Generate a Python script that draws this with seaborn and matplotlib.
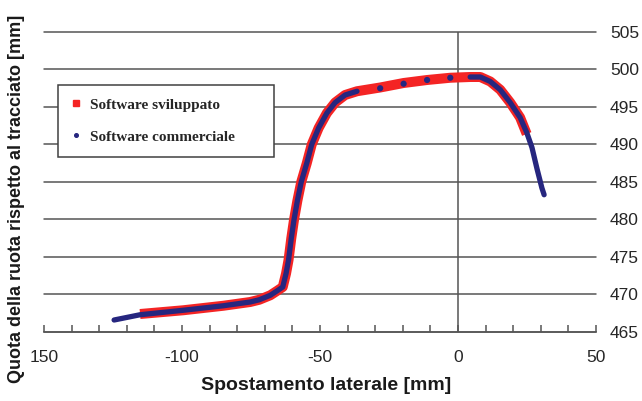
import numpy as np
import pandas as pd
import matplotlib
matplotlib.use("Agg")
import matplotlib.pyplot as plt
from matplotlib.lines import Line2D
import seaborn as sns

# ---- data ----
# "Software sviluppato" (red)
dev_x = [-115.2, -99.5, -85.0, -75.3, -72.0, -68.0, -65.5, -63.5, -62.3, -61.4,
         -60.4, -59.4, -58.2, -56.8, -54.8, -53.0, -50.5, -47.5, -44.5, -40.9,
         -36.6, -28.2, -19.7, -11.2, -2.8, 4.4, 8.1, 11.7, 15.3, 18.9,
         22.5, 24.9]
dev_y = [467.4, 467.9, 468.5, 469.0, 469.3, 469.9, 470.5, 471.0, 472.8, 474.6,
         477.5, 480.0, 482.5, 485.0, 487.5, 490.0, 492.2, 494.2, 495.6, 496.6,
         497.1, 497.6, 498.2, 498.6, 498.9, 499.0, 499.0, 498.4, 497.3, 495.6,
         493.6, 491.4]

# "Software commerciale" (blue): dense left part, sparse middle points, dense right part
comm_left_x = [-124.6, -115.2, -99.5, -85.0, -75.3, -72.0, -68.0, -65.5, -63.5,
               -62.3, -61.4, -60.4, -59.4, -58.2, -56.8, -54.8, -53.0, -50.5,
               -47.5, -44.5, -40.9, -36.6]
comm_left_y = [466.6, 467.3, 467.9, 468.5, 469.0, 469.3, 469.9, 470.5, 471.0,
               472.8, 474.6, 477.5, 480.0, 482.5, 485.0, 487.5, 490.0, 492.2,
               494.2, 495.6, 496.6, 497.1]
comm_mid_x = [-28.2, -19.7, -11.2, -2.8]
comm_mid_y = [497.5, 498.1, 498.6, 498.9]
comm_right_x = [4.4, 8.1, 11.7, 15.3, 18.9, 22.5, 24.9, 26.8, 28.6, 30.4, 31.2]
comm_right_y = [499.0, 499.0, 498.4, 497.3, 495.6, 493.6, 491.6, 489.6, 486.8,
                484.2, 483.3]

x_ticks = [-150, -100, -50, 0, 50]
x_ticklabels = ["150", "-100", "-50", "0", "50"]
y_ticks = [465, 470, 475, 480, 485, 490, 495, 500, 505]
labels = ["Software sviluppato", "Software commerciale"]

RED = "#F42424"
BLUE = "#26267F"
GRID = "#555555"

sns.set_style("white")
plt.rcParams["font.family"] = ["Liberation Sans", "DejaVu Sans"]

fig = plt.figure(figsize=(6.42, 4.01), dpi=100)
ax = fig.add_axes([44 / 642, 1 - 332 / 401, 552 / 642, 300 / 401])

dev = pd.DataFrame({"x": dev_x, "y": dev_y})
left = pd.DataFrame({"x": comm_left_x, "y": comm_left_y})
mid = pd.DataFrame({"x": comm_mid_x, "y": comm_mid_y})
right = pd.DataFrame({"x": comm_right_x, "y": comm_right_y})

sns.lineplot(data=dev, x="x", y="y", sort=False, estimator=None, color=RED,
             lw=7.2, ax=ax, solid_capstyle="butt", solid_joinstyle="round", zorder=3)
for seg in (left, right):
    sns.lineplot(data=seg, x="x", y="y", sort=False, estimator=None, color=BLUE,
                 lw=3.8, ax=ax, solid_capstyle="round", solid_joinstyle="round", zorder=4)
sns.scatterplot(data=mid, x="x", y="y", color=BLUE, s=20, edgecolor="none",
                ax=ax, zorder=5)

ax.set_xlim(-150, 50)
ax.set_ylim(465, 505)

# axis at x = 0
ax.axvline(0, color=GRID, lw=1.1, zorder=1)

# x ticks
ax.set_xticks(x_ticks)
ax.set_xticklabels(x_ticklabels)
ax.set_xticks(np.arange(-150, 51, 10), minor=True)
ax.tick_params(axis="x", which="both", direction="in", length=5, width=1.1,
               color=GRID, bottom=True, pad=13, labelsize=12.5, labelcolor="#262626")

# y ticks on the right
ax.yaxis.tick_right()
ax.set_yticks(y_ticks)
ax.tick_params(axis="y", length=0, pad=10, labelsize=12.5, labelcolor="#262626")
ax.grid(axis="y", color=GRID, lw=1.1)
ax.grid(axis="x", visible=False)
ax.set_axisbelow(True)
for gl in ax.get_ygridlines():
    gl.set_clip_on(False)

for s in ("top", "left", "right"):
    ax.spines[s].set_visible(False)
ax.spines["bottom"].set_color(GRID)
ax.spines["bottom"].set_linewidth(1.1)

ax.set_xlabel("Spostamento laterale [mm]", fontsize=14, fontweight="bold", color="#1a1a1a")
ax.xaxis.label.set_va("center")
ax.xaxis.set_label_coords(0.511, -0.18)
ax.yaxis.set_label_position("left")
ax.set_ylabel("Quota della ruota rispetto al tracciato [mm]", fontsize=13,
              fontweight="bold", color="#1a1a1a")
ax.yaxis.label.set_va("center")
ax.yaxis.set_label_coords(-0.0507, 0.445)

handles = [Line2D([], [], ls="none", marker="s", ms=4.5, color=RED, mec=RED),
           Line2D([], [], ls="none", marker="o", ms=2.6, color=BLUE, mec=BLUE)]
leg = ax.legend(handles, labels, loc="upper left",
                bbox_to_anchor=(14 / 552, (332 - 163) / 300, 216 / 552, 78 / 300),
                mode="expand", borderaxespad=0, borderpad=0.85, handlelength=0.6,
                handletextpad=0.64, labelspacing=1.2, fancybox=False,
                frameon=True, framealpha=1,
                prop={"family": ["Liberation Serif"], "weight": "bold", "size": 11})
leg.get_frame().set_edgecolor("#404040")
leg.get_frame().set_linewidth(1.1)
leg.set_zorder(10)

fig.savefig("out.png", dpi=100)
